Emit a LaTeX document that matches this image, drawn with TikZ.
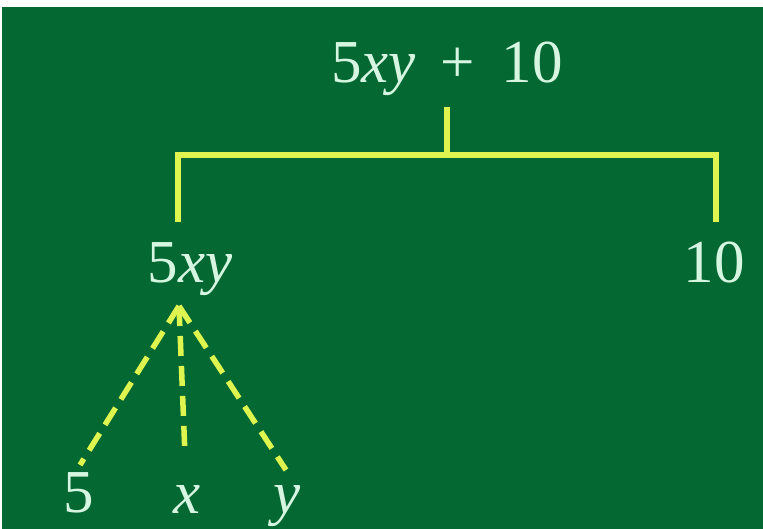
\documentclass[tikz,border=0pt]{standalone}
\usepackage{fontspec}
\setmainfont{Liberation Serif}
\definecolor{board}{RGB}{3,104,50}
\definecolor{chalk}{RGB}{214,246,226}
\definecolor{lime}{RGB}{222,245,80}
\begin{document}
\begin{tikzpicture}[x=1pt,y=-1pt,
  lbl/.style={text=chalk,font=\fontsize{61}{63}\selectfont,inner sep=0pt,anchor=base},
  conn/.style={draw=lime,line width=6pt},
  dconn/.style={draw=lime,line width=5.5pt,dash pattern=on 20pt off 10pt}]
\fill[white] (0,0) rectangle (763,529);
\fill[board] (2,7) rectangle (763,529);
\useasboundingbox (0,0) rectangle (763,529);
\node[lbl] (top) at (447,83) {5\textit{xy}\hspace{0.4em}+\hspace{0.45em}10};
\node[lbl] (a) at (190,283) {5\textit{xy}};
\node[lbl] (b) at (714,283) {10};
\node[lbl] (c5) at (79,512) {5};
\node[lbl] (cx) at (187,513) {\textit{x}};
\node[lbl] (cy) at (287,513) {\textit{y}};
\coordinate (tk) at (447,107);
\coordinate (tm) at (447,155);
\coordinate (bl) at (178,222);
\coordinate (tl) at (178,155);
\coordinate (tr) at (716,155);
\coordinate (br) at (716,222);
\coordinate (ap) at (179,306);
\coordinate (e5) at (80,465);
\coordinate (ex) at (185,455);
\coordinate (ey) at (286,470);
\draw[conn] (tk) -- (tm);
\draw[conn,line join=miter] (bl) -- (tl) -- (tr) -- (br);
\draw[dconn] (ap) -- (e5);
\draw[dconn] (ap) -- (ex);
\draw[dconn] (ap) -- (ey);
\end{tikzpicture}
\end{document}
